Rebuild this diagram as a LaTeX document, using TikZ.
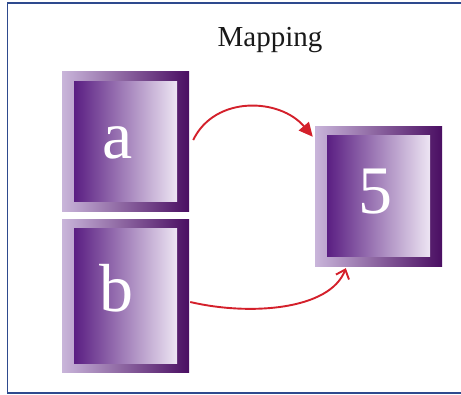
\documentclass[tikz,border=0pt]{standalone}
\usepackage{fontspec}
\setmainfont{Liberation Serif}
\usetikzlibrary{arrows.meta,calc}
\definecolor{frameblue}{HTML}{2E4A8E}
\definecolor{outlight}{HTML}{C9B5DA}
\definecolor{outdark}{HTML}{4A0E62}
\definecolor{indark}{HTML}{5A1E82}
\definecolor{inlight}{HTML}{EDE5F3}
\definecolor{arrred}{HTML}{D4202B}
\tikzset{
  outerbox/.style={draw=none, inner sep=0pt, left color=outlight, right color=outdark},
  innerbox/.style={draw=none, inner sep=0pt, left color=indark, right color=inlight},
  bigletter/.style={text=white, inner sep=0pt, anchor=base, font=\fontsize{68}{68}\selectfont},
  maparrow/.style={draw=arrred, line width=1.9pt},
}
\begin{document}
\begin{tikzpicture}[x=1pt,y=-1pt]
\useasboundingbox (0,0) rectangle (461,394);
\fill[white] (0,0) rectangle (461,394);
% frame
\draw[frameblue, line width=1.8pt] (470,3) -- (7.5,3) -- (7.5,393) -- (470,393);
% title
\node[anchor=base, font=\fontsize{29}{29}\selectfont, text=black!90] (title) at (270,46) {Mapping};
% box a
\node[outerbox, minimum width=127pt, minimum height=140pt] (a) at (125.5,141) {};
\node[innerbox, minimum width=103pt, minimum height=120pt] (ai) at (125.5,141) {};
\node[bigletter] (ta) at (118,158) {a};
% box b
\node[outerbox, minimum width=127pt, minimum height=153pt] (b) at (125.5,295.5) {};
\node[innerbox, minimum width=103pt, minimum height=135pt] (bi) at (125.5,295.5) {};
\node[bigletter] (tb) at (116,311) {b};
% box 5
\node[outerbox, minimum width=127pt, minimum height=140pt] (five) at (378.5,196) {};
\node[innerbox, minimum width=103pt, minimum height=121pt] (fivei) at (378.5,195.5) {};
\node[bigletter] (t5) at (375,213) {5};
% arrows
\draw[maparrow, -{Triangle[length=14pt,width=13pt]}]
  ($(a.east)+(4,-1)$) .. controls (215,95) and (280,98) .. ($(five.north west)+(-2,11)$);
\draw[maparrow, -{Straight Barb[length=8pt,width=14pt,line width=1.9pt]}]
  ($(b.east)+(1,6.5)$) .. controls (250,316) and (330,310) .. ($(five.south west)+(31,2)$);
\end{tikzpicture}
\end{document}
